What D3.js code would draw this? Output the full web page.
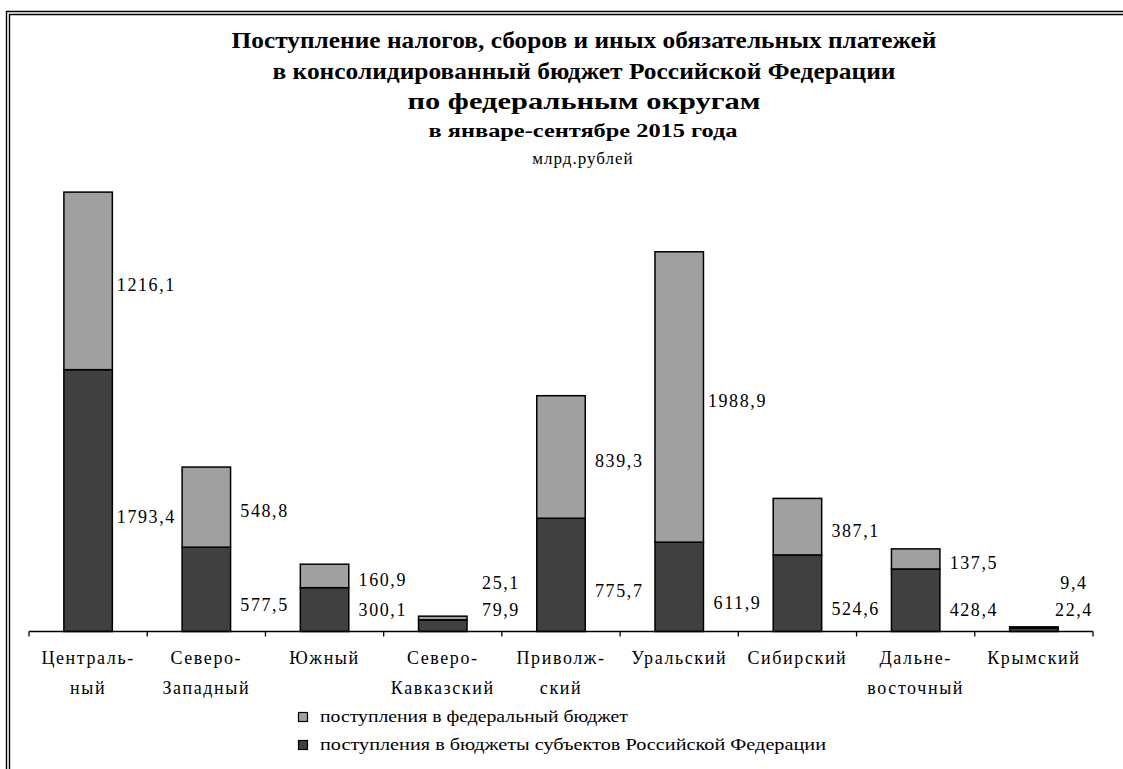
<!DOCTYPE html>
<html>
<head>
<meta charset="utf-8">
<script src="https://cdn.jsdelivr.net/npm/d3@7"></script>
<style>
  body { margin: 0; background: #fff; }
  svg text { font-family: "Liberation Serif", "Times New Roman", Times, serif; }
</style>
</head>
<body>
<div id="chart"></div>
<script>
const WIDTH = 1123;
const HEIGHT = 769;

// districts (two-line labels as shown on the axis)
const districts = [
  ["Централь-", "ный"],
  ["Северо-", "Западный"],
  ["Южный"],
  ["Северо-", "Кавказский"],
  ["Приволж-", "ский"],
  ["Уральский"],
  ["Сибирский"],
  ["Дальне-", "восточный"],
  ["Крымский"]
];
// поступления в бюджеты субъектов РФ (dark, bottom)
const regional = [1793.4, 577.5, 300.1, 79.9, 775.7, 611.9, 524.6, 428.4, 22.4];
// поступления в федеральный бюджет (light, top)
const federal = [1216.1, 548.8, 160.9, 25.1, 839.3, 1988.9, 387.1, 137.5, 9.4];

const titleLines = [
  "Поступление налогов, сборов и иных обязательных платежей",
  "в консолидированный бюджет Российской Федерации",
  "по федеральным округам"
];
const subTitle = "в январе-сентябре 2015 года";
const unitText = "млрд.рублей";
const legendLabels = [
  "поступления в федеральный бюджет",
  "поступления в бюджеты субъектов Российской Федерации"
];

const LIGHT = "#a0a0a0";
const DARK = "#404040";

let svg = d3
  .select("#chart")
  .append("svg")
  .attr("width", WIDTH)
  .attr("height", HEIGHT)
  .attr("font-family", "Liberation Serif, Times New Roman, serif");

//double frame (top + left visible)
[[6.5, 11.5], [9.5, 14.5]].forEach(function (p) {
  svg.append("path")
    .attr("d", `M${p[0]},${HEIGHT + 5} V${p[1]} H${WIDTH + 5}`)
    .attr("fill", "none")
    .attr("stroke", "#000")
    .attr("stroke-width", 1.4);
});

//titles (condensed bold like the original)
const titleGroup = svg.append("g").attr("text-anchor", "middle");
const titleY = [48, 79, 109];
const titleLen = [705, 623, 353];
titleLines.forEach(function (t, i) {
  titleGroup.append("text")
    .attr("x", 584)
    .attr("y", titleY[i])
    .attr("font-size", 23)
    .attr("font-weight", "bold")
    .attr("textLength", titleLen[i])
    .attr("lengthAdjust", "spacingAndGlyphs")
    .text(t);
});
titleGroup.append("text")
  .attr("x", 583)
  .attr("y", 137)
  .attr("font-size", 18)
  .attr("font-weight", "bold")
  .attr("textLength", 309)
  .attr("lengthAdjust", "spacingAndGlyphs")
  .text(subTitle);
titleGroup.append("text")
  .attr("x", 583)
  .attr("y", 164)
  .attr("font-size", 17)
  .attr("letter-spacing", 1)
  .text(unitText);

//scales
const x = d3.scaleBand()
  .domain(d3.range(districts.length))
  .range([29, 1093])
  .paddingInner(0.59)
  .paddingOuter(0.295);
const step = x.step();
const y = d3.scaleLinear().domain([0, 3000]).range([631.5, 631.5 - 0.146 * 3000]);

//bars
const bars = svg.append("g").attr("id", "bars");
districts.forEach(function (d, i) {
  bars.append("rect")
    .attr("x", x(i))
    .attr("width", x.bandwidth())
    .attr("y", y(regional[i]))
    .attr("height", y(0) - y(regional[i]))
    .attr("fill", DARK)
    .attr("stroke", "#000")
    .attr("stroke-width", 1.5);
  bars.append("rect")
    .attr("x", x(i))
    .attr("width", x.bandwidth())
    .attr("y", y(regional[i] + federal[i]))
    .attr("height", y(regional[i]) - y(regional[i] + federal[i]))
    .attr("fill", LIGHT)
    .attr("stroke", "#000")
    .attr("stroke-width", 1.5);
});

//axis
const axisG = svg.append("g");
axisG.append("line")
  .attr("x1", 29).attr("x2", 1093)
  .attr("y1", y(0)).attr("y2", y(0))
  .attr("stroke", "#000").attr("stroke-width", 1.3);
d3.range(districts.length + 1).forEach(function (k) {
  const tx = 29 + k * step;
  axisG.append("line")
    .attr("x1", tx).attr("x2", tx)
    .attr("y1", y(0)).attr("y2", y(0) + 5)
    .attr("stroke", "#000").attr("stroke-width", 1.3);
});
districts.forEach(function (d, i) {
  const cx = x(i) + x.bandwidth() / 2;
  d.forEach(function (line, j) {
    axisG.append("text")
      .attr("x", cx)
      .attr("y", 664 + j * 30)
      .attr("text-anchor", "middle")
      .attr("font-size", 18)
      .attr("letter-spacing", 1.6)
      .text(line);
  });
});

//value labels: centered on segments, kept clear of axis, each other and the right end
const fmt = (v) => v.toFixed(1).replace(".", ",");
const labels = svg.append("g").attr("font-size", 18).attr("letter-spacing", 1.6).attr("text-anchor", "middle");
districts.forEach(function (d, i) {
  const lx = Math.min(x(i) + x.bandwidth() + 34, 1074);
  const darkMid = (y(0) + y(regional[i])) / 2;
  const lightMid = (y(regional[i]) + y(regional[i] + federal[i])) / 2;
  const darkY = Math.min(darkMid + 16, 610);
  const lightY = Math.min(lightMid + 4, darkY - 27);
  labels.append("text")
    .attr("x", lx).attr("y", darkY + 6)
    .text(fmt(regional[i]));
  labels.append("text")
    .attr("x", lx).attr("y", lightY + 6)
    .text(fmt(federal[i]));
});

//legend
const legend = svg.append("g");
const legendLen = [308, 506];
[LIGHT, DARK].forEach(function (c, i) {
  const ly = 717 + i * 28;
  legend.append("rect")
    .attr("x", 298.5).attr("y", ly - 4.5)
    .attr("width", 9).attr("height", 9)
    .attr("fill", c).attr("stroke", "#000").attr("stroke-width", 1.2);
  legend.append("text")
    .attr("x", 320).attr("y", ly + 5)
    .attr("font-size", 17)
    .attr("textLength", legendLen[i])
    .attr("lengthAdjust", "spacingAndGlyphs")
    .text(legendLabels[i]);
});
</script>
</body>
</html>
